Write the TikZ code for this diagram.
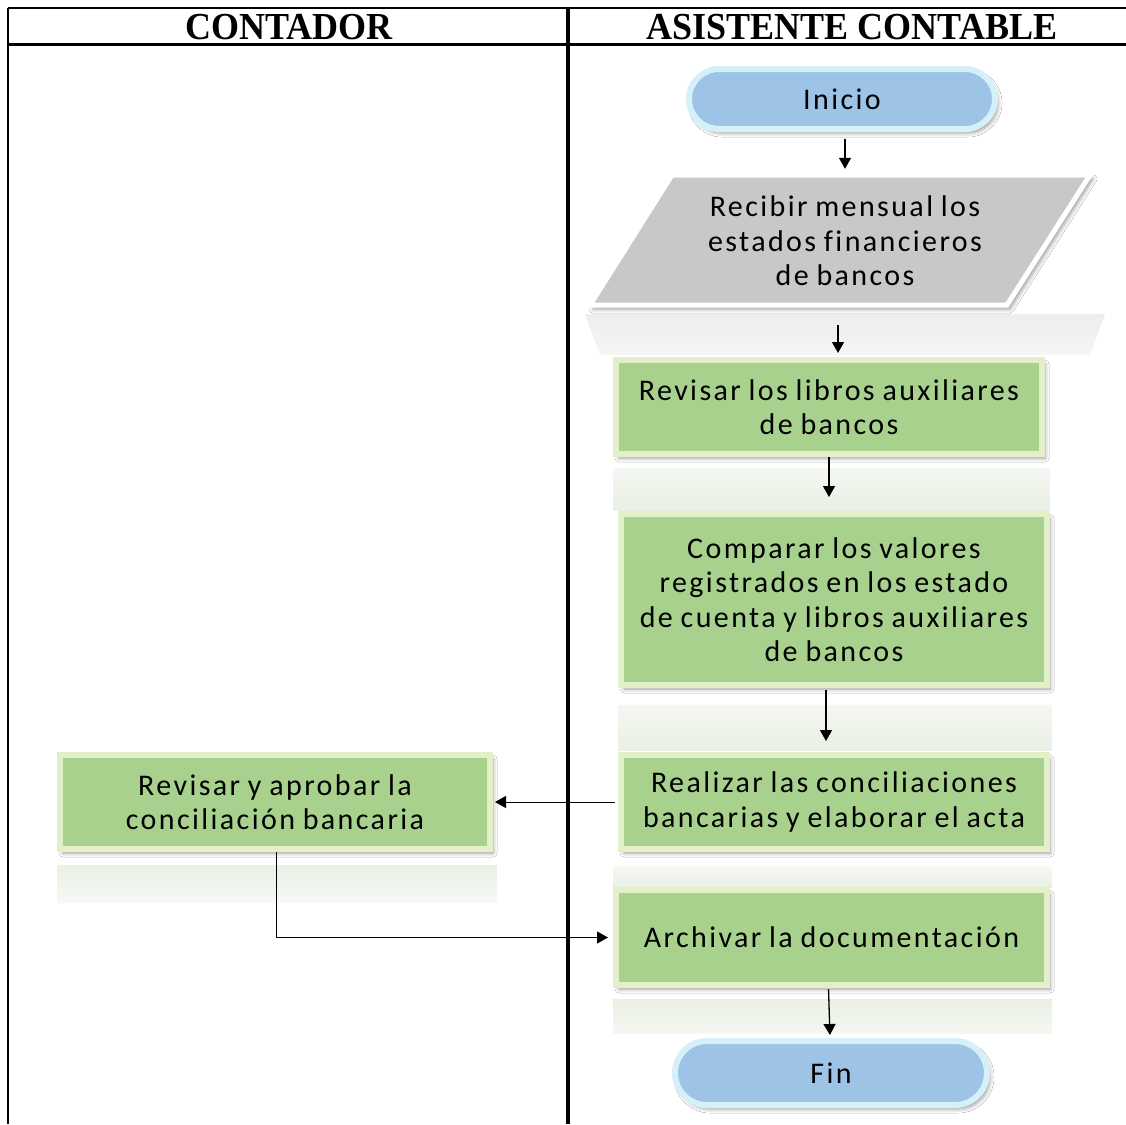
\documentclass[tikz,border=0pt]{standalone}
\usepackage{fontspec}
\setmainfont{Carlito}
\newfontfamily\headfont{Liberation Serif}
\newfontfamily\boxfont[LetterSpace=8,WordSpace={0.85},Ligatures=NoCommon]{Carlito}
\usetikzlibrary{arrows.meta,shadows.blur,shapes.misc}

\definecolor{boxgreen}{HTML}{A9D18E}
\definecolor{bevelgreen}{HTML}{E3EFC6}
\definecolor{termblue}{HTML}{9DC3E6}
\definecolor{termglow}{HTML}{D5F0F8}
\definecolor{iogray}{HTML}{C8C8C8}
\definecolor{reflgreen}{HTML}{EAF0E5}
\definecolor{reflgray}{HTML}{EDEDED}

\tikzset{
  lane/.style={line width=2pt},
  lanediv/.style={line width=4pt},
  headtxt/.style={font=\headfont\bfseries\fontsize{36pt}{38pt}\selectfont, inner sep=0pt, yscale=1.06},
  boxtxt/.style={font=\boxfont\fontsize{30pt}{34.5pt}\selectfont, align=center, inner sep=0pt},
  soft/.style={blur shadow={shadow xshift=3pt, shadow yshift=-4pt, shadow blur radius=4pt, shadow opacity=40}},
  stepbox/.style={boxtxt, soft, rectangle, draw=bevelgreen, line width=6pt, fill=boxgreen},
  terminal/.style={boxtxt, soft, rounded rectangle, draw=termglow, line width=6pt, fill=termblue},
  arr/.style={-{Triangle[length=11pt,width=12pt]}, line width=1.3pt, black},
  refl/.style={draw=none}
}

\begin{document}
\begin{tikzpicture}[x=1pt,y=-1pt]
\useasboundingbox (0,0) rectangle (1126,1124);
\fill[white] (0,0) rectangle (1126,1124);

% swimlane frame
\draw[lane] (8,8) -- (1126,8);
\draw[lane] (8,8) -- (8,1124);
\draw[line width=3pt] (8,45) -- (1126,45);
\draw[lanediv] (568,8) -- (568,1124);
\node[headtxt] (h1) at (289,27) {CONTADOR};
\node[headtxt] (h2) at (852,27) {ASISTENTE CONTABLE};

% soft reflection bands under the shapes
\shade[refl, top color=reflgray, bottom color=white!50!reflgray] (585,314) -- (1105,314) -- (1090,355) -- (600,355) -- cycle;
\shade[refl, top color=white!50!reflgreen, bottom color=reflgreen] (613,468) rectangle (1050,510);
\shade[refl, top color=white!50!reflgreen, bottom color=reflgreen] (618,705) rectangle (1052,750);
\shade[refl, top color=reflgreen, bottom color=white!60!reflgreen] (57,865) rectangle (497,902);
\shade[refl, top color=white!60!reflgreen, bottom color=reflgreen] (613,866) rectangle (1052,887);
\shade[refl, top color=reflgreen, bottom color=white!50!reflgreen] (613,999) rectangle (1052,1033);

% input / output parallelogram
\path[soft, fill=iogray, draw=white, line width=5pt]
  (590,305) -- (672,175) -- (1090,175) -- (1007,305) -- cycle;
\node[boxtxt, minimum width=500pt, minimum height=130pt] (recibir) at (845,241)
  {Recibir mensual los\\estados financieros\\de bancos};

% terminals and process steps
\node[terminal, minimum width=306pt, minimum height=60pt] (inicio) at (842,99) {Inicio};
\node[stepbox, minimum width=426pt, minimum height=94pt] (revisar) at (829,407)
  {Revisar los libros auxiliares\\de bancos};
\node[stepbox, minimum width=426pt, minimum height=171pt] (comparar) at (834,599.5)
  {Comparar los valores\\registrados en los estado\\de cuenta y libros auxiliares\\de bancos};
\node[stepbox, minimum width=426pt, minimum height=94pt] (realizar) at (834,802)
  {Realizar las conciliaciones\\bancarias y elaborar el acta};
\node[stepbox, minimum width=430pt, minimum height=94pt] (aprobar) at (275,802)
  {Revisar y aprobar la\\conciliación bancaria};
\node[stepbox, minimum width=431pt, minimum height=95pt] (archivar) at (831.5,937.5)
  {Archivar la documentación};
\node[terminal, minimum width=312pt, minimum height=64pt] (fin) at (831,1073) {Fin};

% connectors
\draw[arr, shorten <=7pt, shorten >=7pt] ([xshift=3pt]inicio.south) -- ([xshift=3pt]inicio.south |- recibir.north);
\draw[arr, shorten <=19pt, shorten >=4pt] ([xshift=-7pt]recibir.south) -- ([xshift=-7pt]recibir.south |- revisar.north);
\draw[arr, shorten >=14pt] (revisar.south) -- (revisar.south |- comparar.north);
\draw[arr, shorten <=2pt, shorten >=11pt] ([xshift=-8pt]comparar.south) -- ([xshift=-8pt]comparar.south |- realizar.north);
\draw[arr, line width=1pt, shorten <=3pt, shorten >=2pt] (realizar.west) -- (aprobar.east);
\draw[arr, line width=1pt, shorten >=5pt] ([xshift=1pt]aprobar.south) |- (archivar.west);
\draw[arr, shorten <=1pt, shorten >=3pt] ([xshift=-3pt]archivar.south) -- ([xshift=-1pt]fin.north);
\end{tikzpicture}
\end{document}
